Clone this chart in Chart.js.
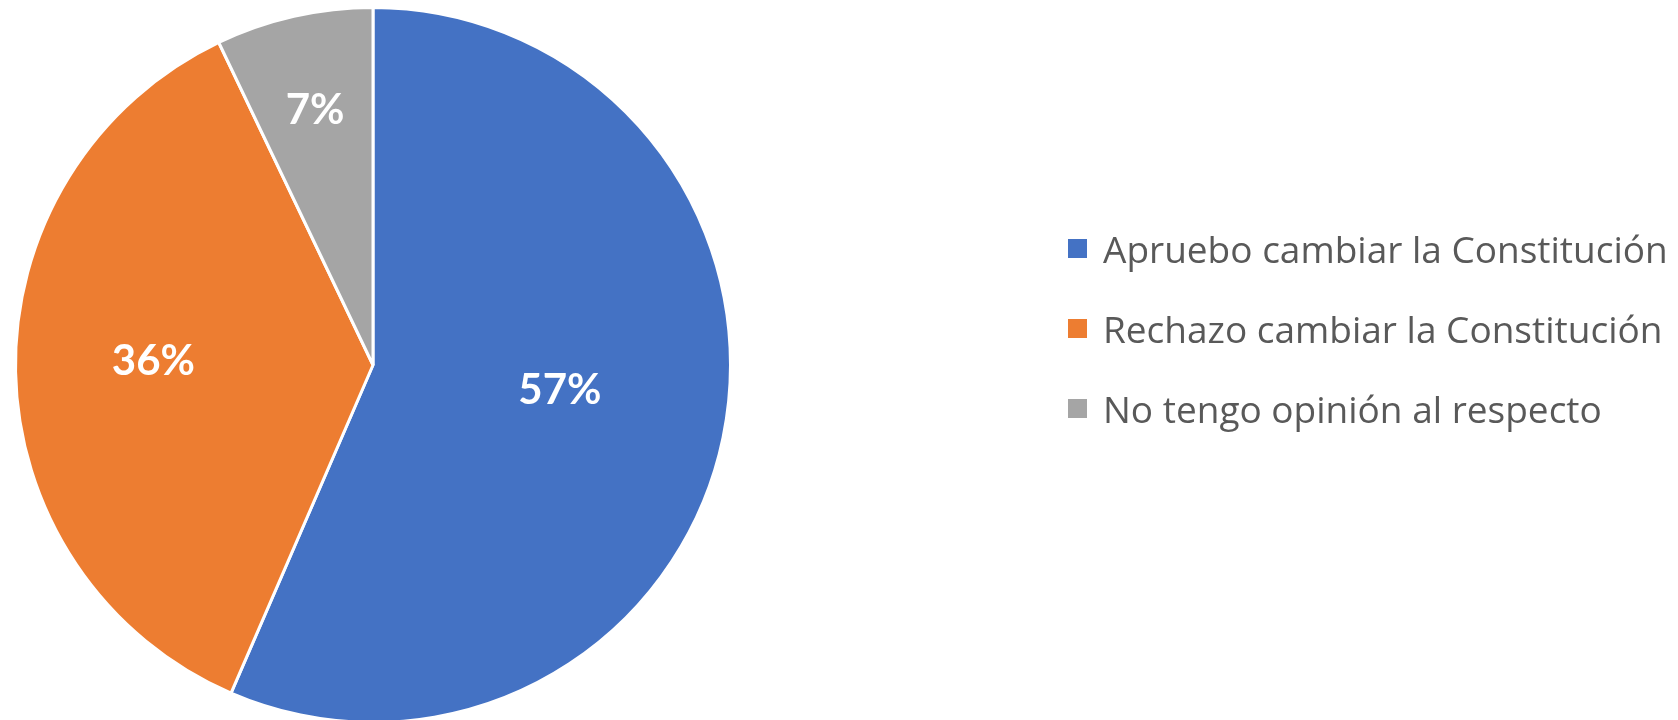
<!DOCTYPE html>
<html>
<head>
<meta charset="utf-8">
<script src="https://cdn.jsdelivr.net/npm/chart.js@4.4.0/dist/chart.umd.min.js"></script>
<style>
  html, body { margin: 0; padding: 0; background: #fff; overflow: hidden; }
  #wrap { position: relative; width: 1678px; height: 724px; }
  #legend {
    position: absolute; left: 1068px; top: 228px;
    display: flex; flex-direction: column; gap: 40px;
    font-family: "Open Sans", sans-serif; font-size: 37px; color: #595959;
  }
  .item { display: flex; align-items: center; height: 40px; white-space: nowrap; }
  .box { width: 19px; height: 19px; margin-right: 16px; }
</style>
</head>
<body>
<div id="wrap">
  <canvas id="pieChart"></canvas>
  <div id="legend"></div>
</div>
<script>
// survey answers, share of respondents (%)
var labels = [
  "Apruebo cambiar la Constitución",
  "Rechazo cambiar la Constitución",
  "No tengo opinión al respecto"
];
var values = [56.5, 36.4, 7.1];
var colors = ["#4472C4", "#ED7D31", "#A5A5A5"];

var total = values.reduce((a, b) => a + b, 0);

// white percent labels inside the slices (bigger slices get labels nearer the centre)
var sliceLabels = {
  id: "sliceLabels",
  afterDatasetsDraw(chart) {
    var ctx = chart.ctx;
    var meta = chart.getDatasetMeta(0);
    ctx.save();
    ctx.font = "bold 42px Lato";
    ctx.fillStyle = "#ffffff";
    ctx.textAlign = "center";
    ctx.textBaseline = "middle";
    meta.data.forEach((arc, i) => {
      var p = arc.getProps(["x", "y", "startAngle", "endAngle", "outerRadius"], true);
      var mid = (p.startAngle + p.endAngle) / 2;
      var share = values[i] / total;
      var r = p.outerRadius * (0.76 - 0.4 * share);
      var dy = 3 - 0.08 * p.outerRadius * share;
      ctx.fillText(Math.round(values[i]) + "%", p.x + Math.cos(mid) * r, p.y + Math.sin(mid) * r + dy);
    });
    ctx.restore();
  }
};

new Chart(document.getElementById("pieChart").getContext("2d"), {
  type: "pie",
  data: {
    labels: labels,
    datasets: [{
      data: values,
      backgroundColor: colors,
      borderColor: "#ffffff",
      borderWidth: 3
    }]
  },
  options: {
    responsive: true,
    maintainAspectRatio: false,
    animation: false,
    layout: { padding: { top: 6, left: 0, right: 932, bottom: 0 } },
    plugins: {
      legend: { display: false },
      tooltip: { enabled: false }
    }
  },
  plugins: [sliceLabels]
});

// legend as html
var legendEl = document.getElementById("legend");
labels.forEach((label, i) => {
  var item = document.createElement("div");
  item.className = "item";
  var box = document.createElement("span");
  box.className = "box";
  box.style.background = colors[i];
  item.appendChild(box);
  item.appendChild(document.createTextNode(label));
  legendEl.appendChild(item);
});
</script>
</body>
</html>
